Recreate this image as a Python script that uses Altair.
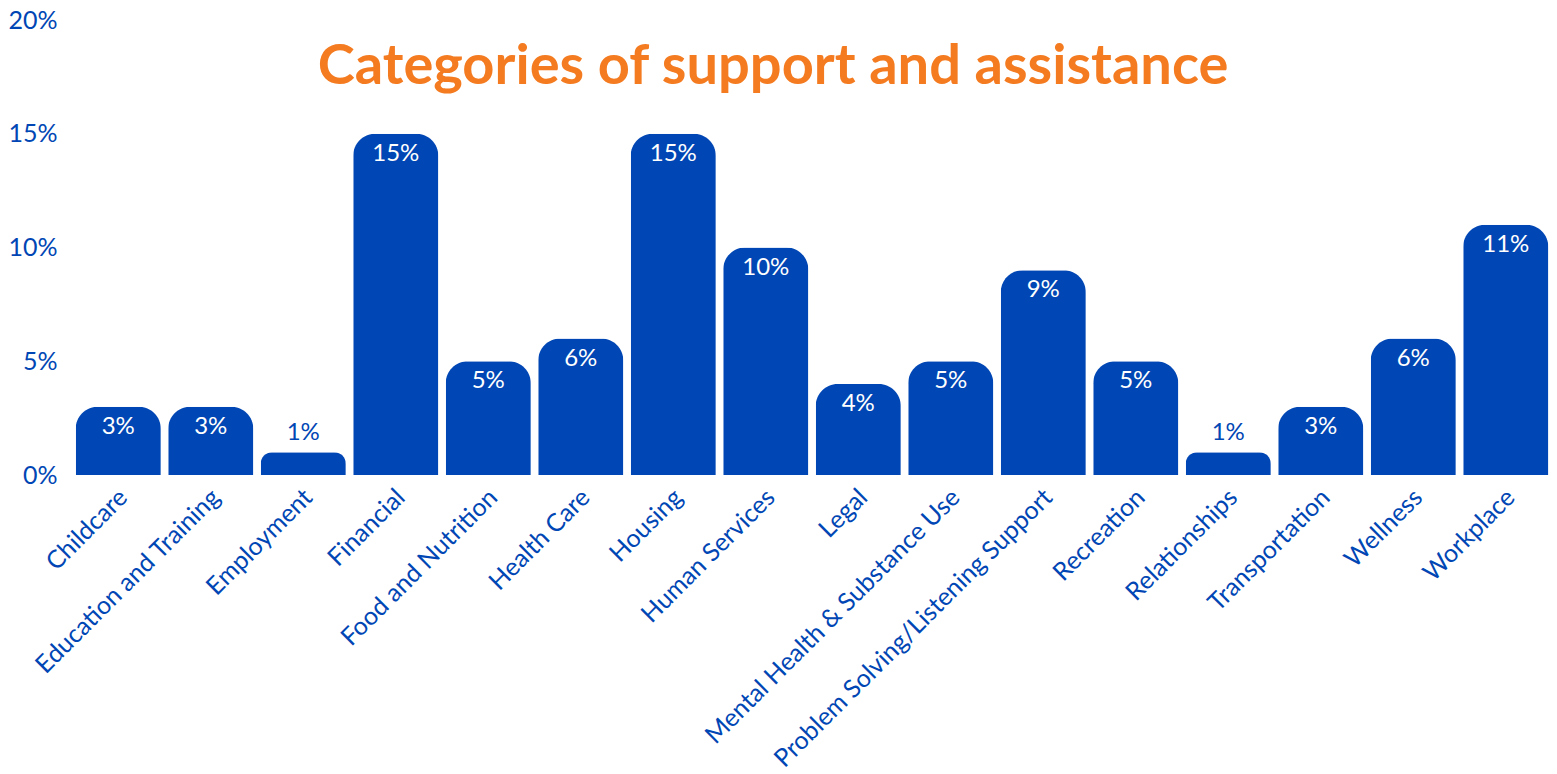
import altair as alt
import pandas as pd

categories = ["Childcare", "Education and Training", "Employment", "Financial",
              "Food and Nutrition", "Health Care", "Housing", "Human Services",
              "Legal", "Mental Health & Substance Use", "Problem Solving/Listening Support",
              "Recreation", "Relationships", "Transportation", "Wellness", "Workplace"]
values = [3, 3, 1, 15, 5, 6, 15, 10, 4, 5, 9, 5, 1, 3, 6, 11]
y_ticks = [0, 5, 10, 15, 20]

df = pd.DataFrame({"category": categories, "value": values})
df["label"] = df["value"].astype(str) + "%"

BLUE = "#0046B4"
ORANGE = "#F47B20"
FONT = "Lato"

x = alt.X("category:N", sort=categories,
          scale=alt.Scale(paddingInner=0.08, paddingOuter=0.04),
          axis=alt.Axis(title=None, labelAngle=-45, labelAlign="right",
                        labelBaseline="middle", labelFontSize=25, labelColor=BLUE,
                        labelFont=FONT, ticks=False, domain=False, labelPadding=18,
                        labelOffset=5, labelLimit=600))
y = alt.Y("value:Q", scale=alt.Scale(domain=[0, 20], nice=False),
          axis=alt.Axis(title=None, values=y_ticks, labelExpr="datum.value + '%'",
                        labelFontSize=25, labelColor=BLUE, labelFont=FONT,
                        ticks=False, domain=False, grid=False, labelPadding=15))

base = alt.Chart(df)
bars = base.mark_bar(color=BLUE, cornerRadiusTopLeft=22, cornerRadiusTopRight=22).encode(x=x, y=y)
inside = base.transform_filter("datum.value >= 2").mark_text(
    color="white", fontSize=24, font=FONT, dy=20, baseline="middle").encode(
    x=alt.X("category:N", sort=categories), y="value:Q", text="label:N")
outside = base.transform_filter("datum.value < 2").mark_text(
    color=BLUE, fontSize=24, font=FONT, dy=-19, baseline="middle").encode(
    x=alt.X("category:N", sort=categories), y="value:Q", text="label:N")

chart = alt.layer(bars, inside, outside).properties(
    width=1480, height=455,
    title=alt.TitleParams("Categories of support and assistance", color=ORANGE,
                          fontSize=56, font=FONT, fontWeight="bold", anchor="middle",
                          offset=-115, dx=-39, baseline="middle"),
    autosize=alt.AutoSizeParams(type="none"),
    padding={"left": 72, "top": 20, "right": 5, "bottom": 299},
).configure_view(stroke=None)

chart.save("out.html", embed_options={"renderer": "svg", "actions": False})
